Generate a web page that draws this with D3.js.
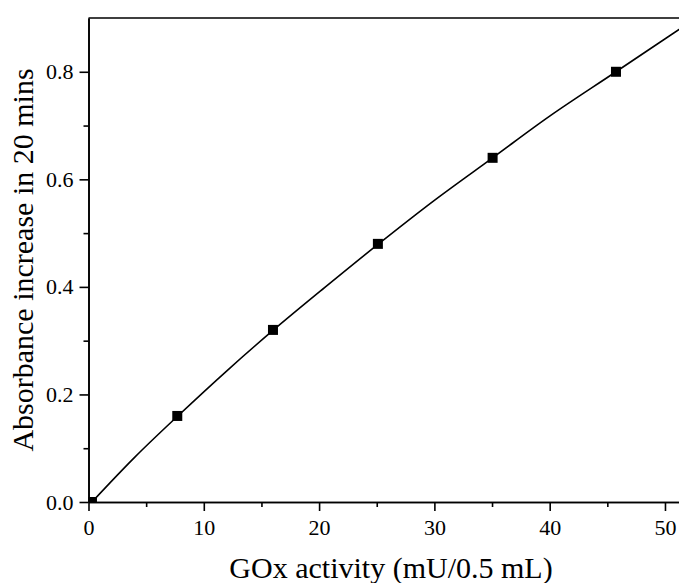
<!DOCTYPE html>
<html>
<head>
<meta charset="utf-8">
<script src="https://cdn.jsdelivr.net/npm/d3@7"></script>
<style>
  body { margin: 0; background: #fff; }
</style>
</head>
<body>
<script>
// measured points
var activity = [0.3, 7.7, 16.0, 25.1, 35.05, 45.75];
var absorbance = [0.0, 0.16, 0.32, 0.48, 0.64, 0.80];

// fitted curve
var fitX = [0.3, 4, 7.7, 12, 16, 20.5, 25.1, 30, 35.05, 40, 45.75, 52];
var fitY = [0.0, 0.083, 0.159, 0.244, 0.319, 0.399, 0.479, 0.561, 0.640, 0.7175, 0.800, 0.890];

var xTicks = [0, 10, 20, 30, 40, 50];
var xMinor = [5, 15, 25, 35, 45];
var yTicks = [0.0, 0.2, 0.4, 0.6, 0.8];
var yMinor = [0.1, 0.3, 0.5, 0.7];

var width = 679, height = 583;
var serif = '"Liberation Serif", "Times New Roman", serif';

var svg = d3.select('body').append('svg')
  .attr('width', width)
  .attr('height', height);

var x = d3.scaleLinear().domain([0, 52.5]).range([88.5, 693.8]);
var y = d3.scaleLinear().domain([0, 0.9]).range([502, 18]);

svg.append('clipPath').attr('id', 'plotclip')
  .append('rect')
  .attr('x', x(0)).attr('y', y(0.9))
  .attr('width', x(52.5) - x(0)).attr('height', y(0) - y(0.9));

// frame (top + right)
svg.append('path')
  .attr('d', 'M' + x(0) + ',' + y(0.9) + 'H' + x(52.5) + 'V' + y(0))
  .attr('fill', 'none')
  .attr('stroke', '#000')
  .attr('stroke-width', 1.6);

// fit line
var fitData = fitX.map(function(d, i){ return [d, fitY[i]]; });
svg.append('path')
  .datum(fitData)
  .attr('clip-path', 'url(#plotclip)')
  .attr('d', d3.line()
    .x(function(d){ return x(d[0]); })
    .y(function(d){ return y(d[1]); })
    .curve(d3.curveCatmullRom))
  .attr('fill', 'none')
  .attr('stroke', '#000')
  .attr('stroke-width', 1.6);

// markers
var sz = 10;
svg.append('g').attr('clip-path', 'url(#plotclip)')
  .selectAll('rect.pt')
  .data(activity)
  .enter().append('rect')
  .attr('class', 'pt')
  .attr('x', function(d){ return x(d) - sz / 2; })
  .attr('y', function(d, i){ return y(absorbance[i]) - sz / 2; })
  .attr('width', sz)
  .attr('height', sz)
  .attr('fill', '#000');

// minor ticks
var xMinorAxis = svg.append('g')
  .attr('transform', 'translate(0,' + y(0) + ')')
  .call(d3.axisBottom(x).tickValues(xMinor).tickSize(5).tickFormat('').tickSizeOuter(0));
var yMinorAxis = svg.append('g')
  .attr('transform', 'translate(' + x(0) + ',0)')
  .call(d3.axisLeft(y).tickValues(yMinor).tickSize(5).tickFormat('').tickSizeOuter(0));

var xAxis = svg.append('g')
  .attr('transform', 'translate(0,' + y(0) + ')')
  .call(d3.axisBottom(x).tickValues(xTicks).tickSize(9).tickPadding(8).tickSizeOuter(0).tickFormat(d3.format('d')));
var yAxis = svg.append('g')
  .attr('transform', 'translate(' + x(0) + ',0)')
  .call(d3.axisLeft(y).tickValues(yTicks).tickSize(9).tickPadding(6).tickSizeOuter(0).tickFormat(d3.format('.1f')));

[xMinorAxis, yMinorAxis, xAxis, yAxis].forEach(function(g){
  g.attr('font-family', serif).attr('font-size', 22);
  g.selectAll('path, line').attr('stroke', '#000').attr('stroke-width', 1.6);
  g.selectAll('text').attr('fill', '#000');
});

// axis titles
svg.append('text')
  .attr('x', 391)
  .attr('y', 578)
  .attr('text-anchor', 'middle')
  .attr('font-family', serif)
  .attr('font-size', 30)
  .text('GOx activity (mU/0.5 mL)');

svg.append('text')
  .attr('transform', 'translate(33,260) rotate(-90)')
  .attr('text-anchor', 'middle')
  .attr('font-family', serif)
  .attr('font-size', 30)
  .text('Absorbance increase in 20 mins');
</script>
</body>
</html>
